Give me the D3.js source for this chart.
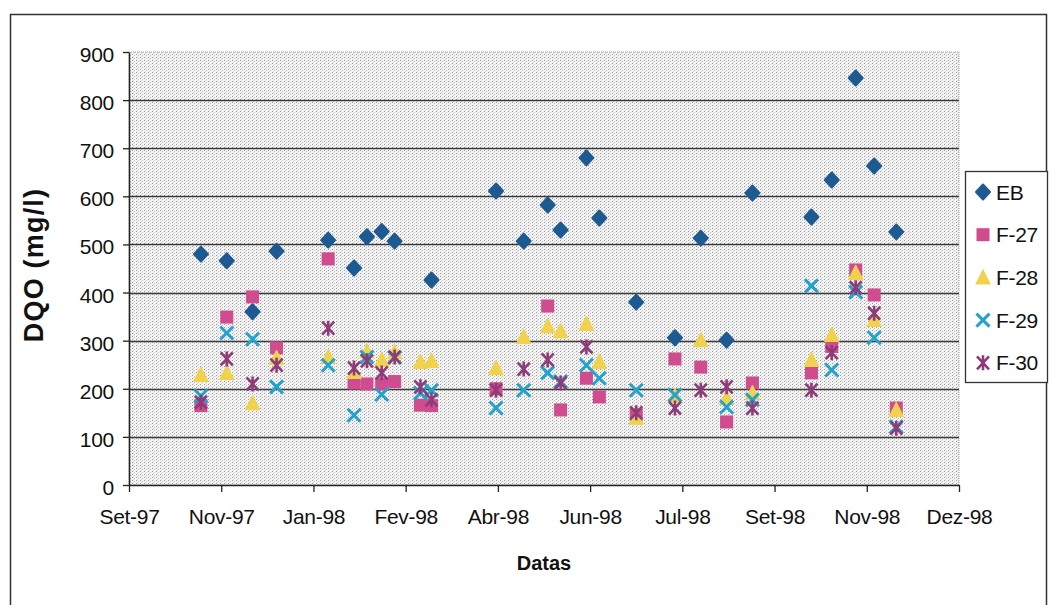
<!DOCTYPE html>
<html>
<head>
<meta charset="utf-8">
<script src="https://cdn.jsdelivr.net/npm/d3@7"></script>
<style>
  body { margin: 0; background: #fff; }
  svg { display: block; }
  text { font-family: Arial, "Liberation Sans", sans-serif; fill: #111; }
</style>
</head>
<body>
<svg id="chart" width="1050" height="605"></svg>
<script>
// Sampling dates
const sampleDates = [
  "1997-11-08", "1997-11-22", "1997-12-06", "1997-12-19", "1998-01-16",
  "1998-01-30", "1998-02-06", "1998-02-14", "1998-02-21", "1998-03-07",
  "1998-03-13", "1998-04-17", "1998-05-02", "1998-05-15", "1998-05-22",
  "1998-06-05", "1998-06-12", "1998-07-02", "1998-07-23", "1998-08-06",
  "1998-08-20", "1998-09-03", "1998-10-05", "1998-10-16", "1998-10-29",
  "1998-11-08", "1998-11-20"
];

// DQO (mg/l) per sampling point
const EB  = [480, 466, 360, 486, 509, 451, 516, 527, 507, null, 426, 611, 507, 582, 530, 680, 555, 380, 306, 513, 301, 607, 557, 634, 846, 663, 526];
const F27 = [165, 349, 391, 285, 470, 212, 210, 210, 215, 166, 165, 200, null, 372, 156, 222, 183, 146, 262, 245, 131, 212, 233, 288, 447, 395, 160];
const F28 = [229, 233, 170, 264, 266, 235, 278, 260, 276, 256, 258, 243, 308, 330, 320, 335, 256, 140, 185, 301, 181, 191, 260, 312, 441, 343, 156];
const F29 = [185, 316, 303, 204, 249, 145, 266, 188, 265, 191, 197, 160, 197, 233, 215, 249, 222, 197, 187, null, 162, 177, 414, 239, 401, 306, 121];
const F30 = [172, 262, 210, 249, 326, 243, 258, 233, 266, 204, 177, 197, 241, 260, 212, 287, null, 150, 160, 197, 204, 160, 197, 275, 410, 357, 118];

const seriesNames = ["EB", "F-27", "F-28", "F-29", "F-30"];
const xTickLabels = ["Set-97", "Nov-97", "Jan-98", "Fev-98", "Abr-98", "Jun-98", "Jul-98", "Set-98", "Nov-98", "Dez-98"];
const yTicks = [0, 100, 200, 300, 400, 500, 600, 700, 800, 900];

const seriesValues = [EB, F27, F28, F29, F30];
const seriesColors = ["#1d5a92", "#d04c8e", "#f0d24c", "#22a2cc", "#8e3c78"];
const seriesShapes = ["diamond", "square", "triangle", "cross", "star"];

const svg = d3.select("#chart");
const plot = { left: 129, top: 52, right: 959, bottom: 485 };

const parse = d3.utcParse("%Y-%m-%d");
const xStart = parse("1997-09-30");
const xEnd = d3.utcDay.offset(xStart, 450);
const x = d3.scaleUtc().domain([xStart, xEnd]).range([plot.left, plot.right]);
const y = d3.scaleLinear().domain([0, 900]).range([plot.bottom, plot.top]);
const xTickValues = xTickLabels.map((_, i) => d3.utcDay.offset(xStart, i * 50));

// outer frame
svg.append("rect")
  .attr("x", 10.5).attr("y", 14.5).attr("width", 1036).attr("height", 600)
  .attr("fill", "#fff").attr("stroke", "#333").attr("stroke-width", 1.5);

// stippled plot-area fill
const defs = svg.append("defs");
const pat = defs.append("pattern")
  .attr("id", "stipple").attr("patternUnits", "userSpaceOnUse")
  .attr("width", 4).attr("height", 3);
pat.append("rect").attr("width", 4).attr("height", 3).attr("fill", "#f4f4f4");
pat.append("rect").attr("x", 0).attr("y", 0).attr("width", 1).attr("height", 1).attr("fill", "#9a9a9a");
pat.append("rect").attr("x", 2).attr("y", 1).attr("width", 1).attr("height", 1).attr("fill", "#c2c2c2");
pat.append("rect").attr("x", 1).attr("y", 2).attr("width", 1).attr("height", 1).attr("fill", "#dadada");

svg.append("rect")
  .attr("x", plot.left).attr("y", plot.top)
  .attr("width", plot.right - plot.left).attr("height", plot.bottom - plot.top)
  .attr("fill", "url(#stipple)")
  .attr("stroke", "#a0a0a0").attr("stroke-width", 1).attr("stroke-dasharray", "1,1");

// horizontal gridlines
svg.append("g")
  .selectAll("line")
  .data(yTicks.filter(v => v > 0 && v < 900))
  .join("line")
  .attr("x1", plot.left).attr("x2", plot.right)
  .attr("y1", d => Math.round(y(d)) + 0.5).attr("y2", d => Math.round(y(d)) + 0.5)
  .attr("stroke", "#3a3a3a").attr("stroke-width", 1.3);

// axes
const xAxis = svg.append("g")
  .attr("transform", `translate(0,${plot.bottom})`)
  .call(d3.axisBottom(x).tickValues(xTickValues)
    .tickFormat((d, i) => xTickLabels[i]).tickSize(7).tickSizeOuter(0));
const yAxis = svg.append("g")
  .attr("transform", `translate(${plot.left},0)`)
  .call(d3.axisLeft(y).tickValues(yTicks).tickSize(6).tickSizeOuter(0));

[xAxis, yAxis].forEach(g => {
  g.attr("font-size", 21).attr("font-family", "Arial, 'Liberation Sans', sans-serif");
  g.select(".domain").attr("stroke", "#222").attr("stroke-width", 1.5);
  g.selectAll(".tick line").attr("stroke", "#222").attr("stroke-width", 1.3);
  g.selectAll(".tick text")
    .attr("font-size", 21).attr("letter-spacing", "-0.3px").attr("fill", "#1a1a1a");
});
xAxis.selectAll(".tick text").attr("y", 24).attr("dy", "0.71em");
yAxis.selectAll(".tick text").attr("x", -15).attr("dy", "0.45em");

// axis titles
svg.append("text")
  .attr("x", 544).attr("y", 570)
  .attr("text-anchor", "middle").attr("font-size", 20).attr("font-weight", "bold")
  .text("Datas");
svg.append("text")
  .attr("transform", "translate(43,265) rotate(-90)")
  .attr("text-anchor", "middle").attr("font-size", 27).attr("font-weight", "bold")
  .attr("letter-spacing", "1.2px")
  .text("DQO (mg/l)");

// marker shapes
function drawMarker(g, shape, color) {
  if (shape === "diamond") {
    g.append("path").attr("d", "M0,-7.5L7,0L0,7.5L-7,0Z").attr("fill", color)
      .attr("stroke", color).attr("stroke-width", 2).attr("stroke-linejoin", "round");
  } else if (shape === "square") {
    g.append("rect").attr("x", -6.5).attr("y", -6.5).attr("width", 13).attr("height", 13).attr("fill", color);
  } else if (shape === "triangle") {
    g.append("path").attr("d", "M0,-7.5L7,6.5L-7,6.5Z").attr("fill", color)
      .attr("stroke", color).attr("stroke-width", 1.2).attr("stroke-linejoin", "round");
  } else if (shape === "cross") {
    g.append("path").attr("d", "M-6.5,-6.5L6.5,6.5M6.5,-6.5L-6.5,6.5")
      .attr("stroke", color).attr("stroke-width", 3).attr("fill", "none");
  } else {
    g.append("path").attr("d", "M-6,-6.5L6,6.5M6,-6.5L-6,6.5M0,-7.5L0,7.5")
      .attr("stroke", color).attr("stroke-width", 2.6).attr("fill", "none");
  }
}

// series points
seriesNames.forEach((name, si) => {
  const pts = sampleDates
    .map((d, i) => ({ date: parse(d), value: seriesValues[si][i] }))
    .filter(p => p.value !== null);
  const g = svg.append("g").attr("class", "series");
  pts.forEach(p => {
    const m = g.append("g").attr("transform", `translate(${x(p.date)},${y(p.value)})`);
    drawMarker(m, seriesShapes[si], seriesColors[si]);
  });
});

// legend
const legend = svg.append("g");
legend.append("rect")
  .attr("x", 965.5).attr("y", 171.5).attr("width", 82).attr("height", 211)
  .attr("fill", "#fff").attr("stroke", "#333").attr("stroke-width", 1.3);
seriesNames.forEach((name, i) => {
  const ly = 192 + i * 42.7;
  const m = legend.append("g").attr("transform", `translate(983,${ly})`);
  drawMarker(m, seriesShapes[i], seriesColors[i]);
  legend.append("text").attr("x", 996).attr("y", ly).attr("dy", "0.36em")
    .attr("font-size", 21).attr("letter-spacing", "-0.3px").text(name);
});
</script>
</body>
</html>
